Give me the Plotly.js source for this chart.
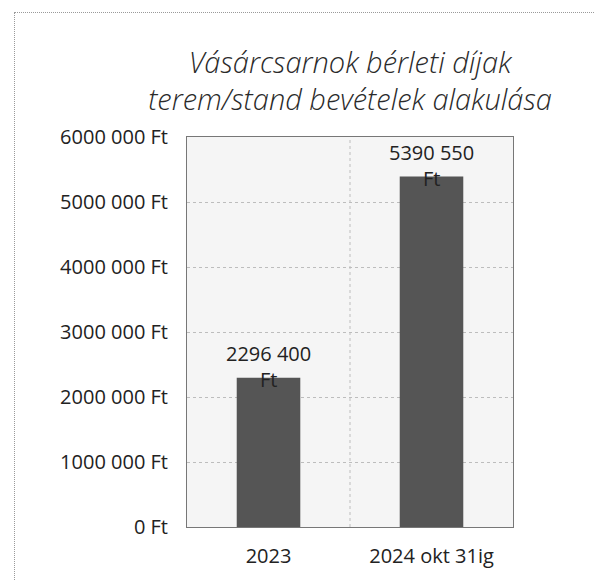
<!DOCTYPE html>
<html>
<head>
<meta charset="utf-8">
<script src="https://cdn.plot.ly/plotly-3.0.1.min.js"></script>
<style>
  html, body { margin: 0; padding: 0; background: #ffffff; }
  #wrap { position: relative; width: 594px; height: 580px; }
  #frame { position: absolute; left: 14px; top: 12px; right: 0; bottom: 0;
           border-top: 1px dotted #9a9a9a; border-left: 1px dotted #9a9a9a; pointer-events: none; }
  #chart { width: 594px; height: 580px; }
</style>
</head>
<body>
<div id="wrap">
  <div id="chart"></div>
  <div id="frame"></div>
</div>
<script>
const categories = ['2023', '2024 okt 31ig'];
const values = [2296400, 5390550];
const valueLabels = ['2296 400<br>Ft', '5390 550<br>Ft'];
const tickValues = [0, 1000000, 2000000, 3000000, 4000000, 5000000, 6000000];
const tickLabels = ['0 Ft', '1000 000 Ft', '2000 000 Ft', '3000 000 Ft', '4000 000 Ft', '5000 000 Ft', '6000 000 Ft'];
const chartTitle = 'Vásárcsarnok bérleti díjak<br>terem/stand bevételek alakulása';

const FONT = 'Open Sans, Lato, sans-serif';

const trace = {
  type: 'bar',
  x: categories,
  y: values,
  width: 0.39,
  marker: { color: '#555555', line: { width: 0 } },
  hoverinfo: 'none'
};

const annotations = categories.map((c, i) => ({
  x: i, y: values[i], xref: 'x', yref: 'y',
  text: valueLabels[i], showarrow: false,
  yanchor: 'middle', yshift: 11,
  font: { family: FONT, size: 20, color: '#222222' }
}));

const layout = {
  width: 594, height: 580,
  margin: { l: 187, r: 81, t: 137, b: 53, pad: 0 },
  paper_bgcolor: '#ffffff',
  plot_bgcolor: '#f5f5f5',
  showlegend: false,
  bargap: 0.61,
  title: {
    text: chartTitle,
    font: { family: FONT, size: 29, color: '#2a2a2a', style: 'italic', weight: 300 },
    xref: 'paper', x: 0.5, xanchor: 'center',
    yref: 'container', y: 0.875, yanchor: 'top'
  },
  xaxis: {
    type: 'category',
    showgrid: false, zeroline: false,
    showline: true, linecolor: '#777777', linewidth: 1, mirror: true,
    ticks: '', ticklabelstandoff: 11,
    tickfont: { family: FONT, size: 20, color: '#222222' },
    range: [-0.5, 1.5]
  },
  yaxis: {
    range: [0, 6000000],
    tickvals: tickValues, ticktext: tickLabels,
    showgrid: true, gridcolor: '#bdbdbd', griddash: 'dot', gridwidth: 1,
    zeroline: false,
    showline: true, linecolor: '#777777', linewidth: 1, mirror: true,
    ticks: '', ticklabelstandoff: 14,
    tickfont: { family: FONT, size: 20, color: '#222222' }
  },
  shapes: [{
    type: 'line', xref: 'x', yref: 'paper', x0: 0.5, x1: 0.5, y0: 0, y1: 1,
    line: { color: '#bdbdbd', width: 1, dash: 'dot' }, layer: 'below'
  }],
  annotations: annotations
};

Plotly.newPlot('chart', [trace], layout, { displayModeBar: false, staticPlot: true });
</script>
</body>
</html>
